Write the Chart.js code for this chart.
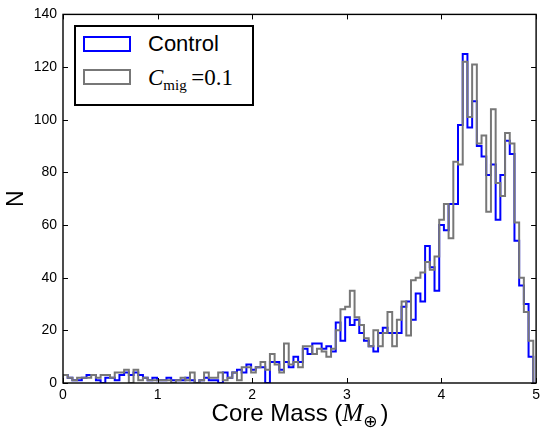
<!DOCTYPE html>
<html><head><meta charset="utf-8">
<script src="https://cdn.jsdelivr.net/npm/chart.js@4.4.1/dist/chart.umd.min.js"></script>
<style>
html,body{margin:0;padding:0;background:#fff;}
#wrap{position:relative;width:544px;height:433px;overflow:hidden;}
#c{position:absolute;left:0;top:0;}
#legend{position:absolute;left:74px;top:25px;width:176px;height:77px;border:2px solid #000;background:#fff;}
.sw{position:absolute;left:7px;width:44px;height:12px;border:2px solid;background:#fff;}
.lt{position:absolute;left:72px;line-height:22px;white-space:nowrap;color:#000;}
#xt{position:absolute;left:0;width:600px;text-align:center;top:401px;line-height:24px;font-family:"Liberation Sans",Arial,sans-serif;font-size:24px;white-space:nowrap;color:#000;}
.m{font-family:"Liberation Serif","DejaVu Serif",serif;font-style:italic;font-size:25px;}
.sub{font-family:"DejaVu Sans",sans-serif;font-size:17px;position:relative;top:6px;margin-right:3px;}
</style></head>
<body><div id="wrap">
<canvas id="c" width="544" height="433"></canvas>
<div id="legend">
  <div class="sw" style="top:9px;border-color:#0000ff"></div>
  <div class="lt" style="top:6px;font-family:'Liberation Sans',Arial,sans-serif;font-size:22px;">Control</div>
  <div class="sw" style="top:42px;border-color:#777777"></div>
  <div class="lt" style="top:40px;font-family:'Liberation Serif','DejaVu Serif',serif;font-size:23px;"><i>C</i><span style="font-size:15px;position:relative;top:5px;">mig</span>&thinsp;=0.1</div>
</div>
<div id="xt">Core Mass (<span class="m">M</span><span class="sub">⊕</span>)</div>
</div>
<script>
// ---- data ----
const binStart = 0;
const binWidth = 0.0497;
const controlCounts = [
  3, 2, 1, 1, 2, 3, 3, 1, 0, 2,
  2, 1, 3, 4, 3, 4, 3, 2, 1, 2,
  1, 1, 2, 1, 1, 1, 2, 1, 0, 1,
  2, 1, 1, 0, 4, 2, 4, 5, 4, 7,
  5, 6, 6, 0, 8, 8, 5, 8, 6, 10,
  8, 13, 11, 15, 15, 13, 14, 12, 23, 16,
  25, 22, 24, 19, 16, 14, 12, 19, 21, 19,
  19, 19, 29, 31, 24, 34, 31, 52, 44, 35,
  60, 58, 68, 68, 98, 125, 97, 107, 90, 86,
  79, 83, 62, 79, 92, 87, 54, 37, 30, 10
];
const migCounts = [
  3, 2, 1, 2, 2, 2, 3, 2, 3, 3,
  2, 4, 4, 5, 0, 5, 1, 2, 1, 1,
  1, 1, 1, 0, 1, 2, 1, 4, 0, 1,
  4, 2, 2, 4, 1, 2, 4, 1, 6, 6,
  4, 6, 8, 5, 11, 7, 4, 15, 7, 8,
  6, 14, 14, 11, 13, 12, 10, 13, 20, 28,
  29, 35, 25, 22, 17, 14, 20, 14, 19, 27,
  14, 24, 31, 18, 39, 40, 42, 46, 43, 48,
  62, 68, 55, 84, 83, 122, 101, 121, 91, 94,
  65, 104, 76, 71, 95, 91, 61, 40, 27, 16
];
const xTicks = [0, 1, 2, 3, 4, 5];
const yTicks = [0, 20, 40, 60, 80, 100, 120, 140];
const seriesLabels = ['Control', 'C_mig = 0.1'];

// bin edges (categories)
const binEdges = controlCounts.map((_, i) => +(binStart + i * binWidth).toFixed(4));
binEdges.push(+(binStart + controlCounts.length * binWidth).toFixed(4));

function stepPoints(counts) {
  const pts = [{x: binEdges[0], y: 0}];
  counts.forEach((c, i) => pts.push({x: binEdges[i], y: c}));
  pts.push({x: binEdges[counts.length], y: 0});
  return pts;
}

const framePlugin = {
  id: 'frame',
  afterDatasetsDraw(chart) {
    const {ctx, chartArea: a, scales: {x, y}} = chart;
    ctx.save();
    ctx.strokeStyle = '#000';
    ctx.lineWidth = 1;
    ctx.beginPath();
    xTicks.forEach(v => {
      const px = Math.round(x.getPixelForValue(v)) + 0.5;
      ctx.moveTo(px, a.bottom); ctx.lineTo(px, a.bottom - 5);
      ctx.moveTo(px, a.top); ctx.lineTo(px, a.top + 5);
    });
    yTicks.forEach(v => {
      const py = Math.round(y.getPixelForValue(v)) + 0.5;
      ctx.moveTo(a.left, py); ctx.lineTo(a.left + 5, py);
      ctx.moveTo(a.right, py); ctx.lineTo(a.right - 5, py);
    });
    ctx.stroke();
    ctx.lineWidth = 1.4;
    ctx.strokeRect(a.left, a.top, a.right - a.left, a.bottom - a.top);
    ctx.restore();
  }
};

const tickFont = {family: "'Liberation Sans', Arial, sans-serif", size: 14};

new Chart(document.getElementById('c'), {
  type: 'line',
  data: {
    datasets: [
      {label: seriesLabels[0], data: stepPoints(controlCounts), borderColor: '#0000ff', borderWidth: 2, stepped: true, pointRadius: 0, fill: false, tension: 0, order: 1},
      {label: seriesLabels[1], data: stepPoints(migCounts), borderColor: '#777777', borderWidth: 2, stepped: true, pointRadius: 0, fill: false, tension: 0, order: 0}
    ]
  },
  options: {
    responsive: false,
    animation: false,
    devicePixelRatio: 1,
    layout: {padding: {top: 14, right: 4, left: 0, bottom: 0}},
    plugins: {legend: {display: false}, tooltip: {enabled: false}, title: {display: false}},
    scales: {
      x: {
        type: 'linear', min: 0, max: 5,
        grid: {display: false, drawTicks: false},
        border: {display: false},
        afterBuildTicks: s => { s.ticks = xTicks.map(v => ({value: v})); },
        afterFit: s => { s.height = 50; },
        ticks: {color: '#000', font: tickFont, padding: 4, maxRotation: 0}
      },
      y: {
        type: 'linear', min: 0, max: 140,
        grid: {display: false, drawTicks: false},
        border: {display: false},
        afterBuildTicks: s => { s.ticks = yTicks.map(v => ({value: v})); },
        afterFit: s => { s.width = 63; },
        ticks: {color: '#000', font: tickFont, padding: 6},
        title: {display: true, text: 'N', color: '#000', font: {family: "'Liberation Sans', Arial, sans-serif", size: 23}, padding: {top: 3, bottom: 0}}
      }
    }
  },
  plugins: [framePlugin]
});
</script>
</body></html>
